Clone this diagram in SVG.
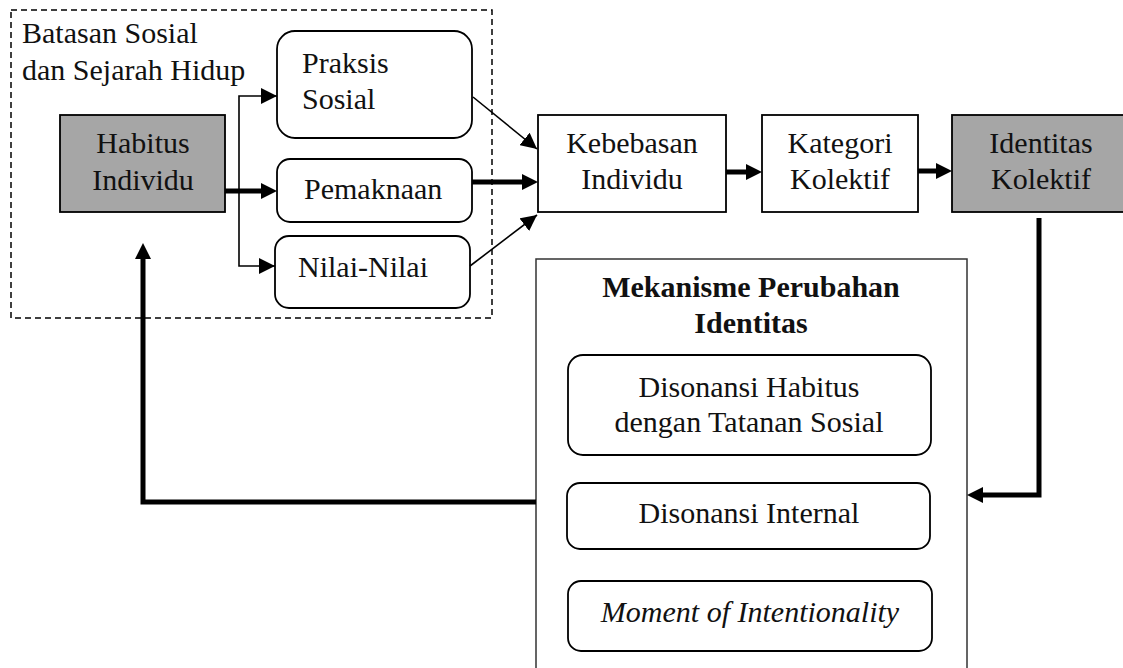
<svg xmlns="http://www.w3.org/2000/svg" width="1123" height="668" viewBox="0 0 1123 668">
<style>
  text { font-size: 30px; fill: #111; }
  .c { text-anchor: middle; }
  .b { font-weight: bold; }
  .i { font-style: italic; }
  .box { fill: #fff; stroke: #000; stroke-width: 1.8; }
  .grey { fill: #a6a6a6; stroke: #000; stroke-width: 1.8; }
  .frame { fill: #fff; stroke: #333; stroke-width: 1.5; }
  .dash { fill: none; stroke: #000; stroke-width: 1.5; stroke-dasharray: 6 4; }
  .thin { fill: none; stroke: #000; stroke-width: 1.6; marker-end: url(#headThin); }
  .thick { fill: none; stroke: #000; stroke-width: 5; stroke-linejoin: miter; marker-end: url(#headThick); }
</style>
<defs>
  <marker id="headThin" viewBox="0 0 16 16" refX="16" refY="8" markerWidth="16" markerHeight="16" markerUnits="userSpaceOnUse" orient="auto">
    <path d="M0,0 L16,8 L0,16 z" fill="#000"/>
  </marker>
  <marker id="headThick" viewBox="0 0 16 16" refX="2" refY="8" markerWidth="16" markerHeight="16" markerUnits="userSpaceOnUse" orient="auto">
    <path d="M0,0 L16,8 L0,16 z" fill="#000"/>
  </marker>
</defs>

<g font-family="Liberation Serif, Times New Roman, serif">
<g id="batasan">
  <rect class="dash" x="11" y="10" width="481" height="308"/>
  <text x="22" y="43">Batasan Sosial</text>
  <text x="22" y="80">dan Sejarah Hidup</text>
</g>

<g id="habitus">
  <rect class="grey" x="60" y="115" width="165" height="97"/>
  <text class="c" x="143" y="153">Habitus</text>
  <text class="c" x="143" y="190">Individu</text>
</g>

<g id="praksis">
  <rect class="box" x="277" y="31" width="195" height="107" rx="18"/>
  <text x="302" y="73">Praksis</text>
  <text x="302" y="109">Sosial</text>
</g>

<g id="pemaknaan">
  <rect class="box" x="277" y="159" width="195" height="63" rx="13"/>
  <text x="304" y="199">Pemaknaan</text>
</g>

<g id="nilai">
  <rect class="box" x="275" y="236" width="195" height="72" rx="14"/>
  <text x="298" y="277">Nilai-Nilai</text>
</g>

<g id="kebebasan">
  <rect class="box" x="538" y="115" width="188" height="97"/>
  <text class="c" x="632" y="153">Kebebasan</text>
  <text class="c" x="632" y="189">Individu</text>
</g>

<g id="kategori">
  <rect class="box" x="762" y="115" width="156" height="97"/>
  <text class="c" x="840" y="153">Kategori</text>
  <text class="c" x="840" y="189">Kolektif</text>
</g>

<g id="identitas">
  <rect class="grey" x="952" y="115" width="200" height="97"/>
  <text class="c" x="1041" y="153">Identitas</text>
  <text class="c" x="1041" y="189">Kolektif</text>
</g>

<g id="mekanisme">
  <rect class="frame" x="536" y="259" width="431" height="430"/>
  <text class="c b" x="751" y="297">Mekanisme Perubahan</text>
  <text class="c b" x="751" y="333">Identitas</text>
</g>

<g id="disonansi-habitus">
  <rect class="box" x="568" y="355" width="363" height="100" rx="15"/>
  <text class="c" x="749" y="397">Disonansi Habitus</text>
  <text class="c" x="749" y="432">dengan Tatanan Sosial</text>
</g>

<g id="disonansi-internal">
  <rect class="box" x="567" y="483" width="363" height="66" rx="13"/>
  <text class="c" x="749" y="523">Disonansi Internal</text>
</g>

<g id="moment">
  <rect class="box" x="568" y="581" width="364" height="70" rx="13"/>
  <text class="c i" x="750" y="622">Moment of Intentionality</text>
</g>
</g>

<g id="connectors">
  <path class="thick" d="M225,191 H263"/>
  <path class="thin" d="M239,191 V96 H277"/>
  <path class="thin" d="M239,191 V266 H275"/>
  <path class="thick" d="M472,182 H524"/>
  <path class="thin" d="M473,97 L537,149"/>
  <path class="thin" d="M470,266 L537,215"/>
  <path class="thick" d="M726,172 H748"/>
  <path class="thick" d="M918,171 H938"/>
  <path class="thick" d="M1039,218 V495 H981"/>
  <path class="thick" d="M536,502 H143 V257"/>
</g>
</svg>
